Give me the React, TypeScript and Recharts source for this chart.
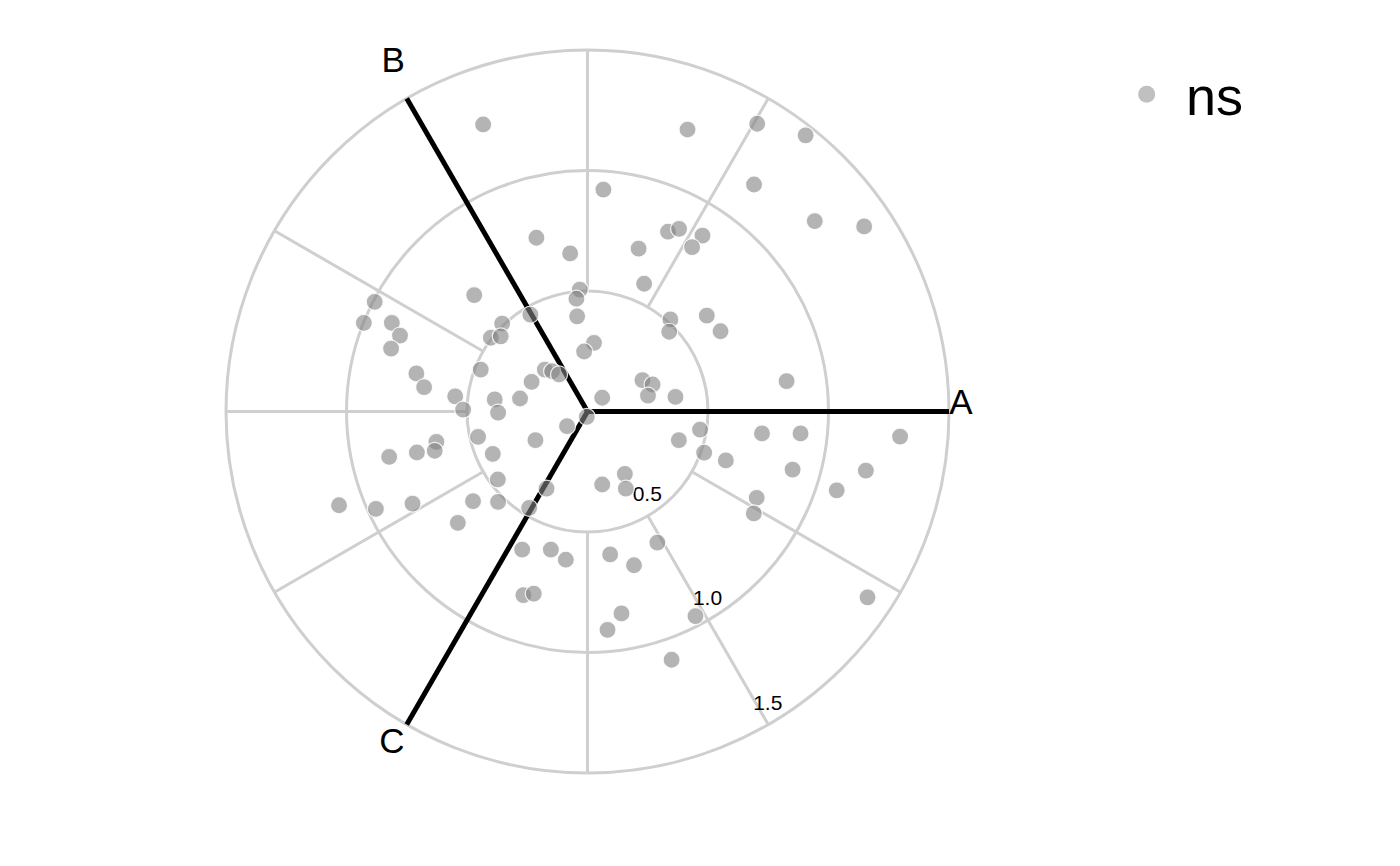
import { ScatterChart, Scatter, XAxis, YAxis, ReferenceLine, ReferenceDot, Legend } from 'recharts';

// radial grid: rings, their labels, and the spokes that are drawn
const RINGS = [0.5, 1.0, 1.5];
const RING_LABELS = ['0.5', '1.0', '1.5'];
const RING_LABEL_ANGLE = 300;
const SPOKE_ANGLES = [60, 90, 150, 180, 210, 270, 300, 330];

// the three comparison axes
const AXIS_NAMES = ['A', 'B', 'C'];
const AXIS_ANGLES = [0, 120, 240];

// "ns" points (cartesian, same units as the rings)
const nsX = [
  -0.433, 0.415, 0.066, -0.212, -0.072, 0.334, 0.380, 0.477, 0.434, 0.212,
  0.235, -0.032, -0.046, -0.470, 0.704, 0.905, 0.691, 0.943, 1.148, -0.883,
  -0.928, -0.812, -0.778, -0.815, -0.710, -0.678, -0.549, -0.516, -0.627, -0.634,
  -0.708, -0.823, -1.031, -0.878, -0.726, -0.538, -0.237, -0.043, -0.354, -0.401,
  -0.360, 0.027, -0.014, 0.344, 0.339, 0.495, 0.552, -0.443, -0.177, -0.147,
  -0.118, -0.232, 0.228, 0.270, 0.251, 0.061, 0.365, -0.385, -0.280, -0.371,
  -0.003, -0.085, 0.467, 0.379, -0.454, -0.216, 0.484, -0.393, 0.155, 0.061,
  0.159, -0.170, -0.372, -0.475, -0.371, -0.242, 0.826, 0.724, 0.884, 1.297,
  0.574, 0.851, 1.155, 1.034, 0.702, 0.690, -0.271, -0.152, -0.090, -0.266,
  -0.223, 0.094, 0.193, 0.290, 0.141, 0.083, 0.448, 0.349, 1.162,
];
const nsY = [
  1.191, 1.170, 0.921, 0.721, 0.656, 0.746, 0.758, 0.730, 0.682, 0.676,
  0.530, 0.506, 0.468, 0.483, 1.194, 1.146, 0.942, 0.790, 0.768, 0.455,
  0.368, 0.368, 0.315, 0.261, 0.158, 0.101, 0.063, 0.008, -0.126, -0.163,
  -0.170, -0.188, -0.389, -0.404, -0.382, -0.462, 0.402, 0.395, 0.365, 0.306,
  0.312, 0.285, 0.249, 0.382, 0.331, 0.398, 0.333, 0.174, 0.174, 0.167,
  0.154, 0.123, 0.130, 0.112, 0.066, 0.057, 0.061, 0.050, 0.054, -0.005,
  -0.022, -0.061, -0.075, -0.119, -0.105, -0.119, -0.171, -0.176, -0.259, -0.303,
  -0.320, -0.320, -0.282, -0.372, -0.375, -0.400, 0.126, -0.091, -0.091, -0.104,
  -0.203, -0.241, -0.245, -0.327, -0.358, -0.423, -0.573, -0.573, -0.615, -0.762,
  -0.756, -0.593, -0.638, -0.544, -0.838, -0.906, -0.849, -1.030, -0.771,
];

const R_MAX = 1.5;
const PLOT = 723;
const PX = PLOT / (2 * R_MAX);
const W = 1384;
const H = 850;
const MARGIN = { top: 42, left: 218, right: W - 218 - PLOT, bottom: H - 42 - PLOT };

const GRID = '#cfcfcf';
const FONT = '"Liberation Sans", Arial, Helvetica, sans-serif';
// pixel nudges of the axis names from the end of each axis
const AXIS_NUDGE = [[12, -10.5], [-13.5, -38.7], [-14.8, 16.2]];

const rad = (deg: number) => (deg * Math.PI) / 180;
const polar = (r: number, deg: number) => ({ x: r * Math.cos(rad(deg)), y: r * Math.sin(rad(deg)) });

const points = nsX.map((x, i) => ({ x, y: nsY[i] }));

function PointDot(props: any) {
  const { cx, cy } = props;
  if (cx == null || cy == null) return null;
  return (
    <circle cx={cx} cy={cy} r={8.5} fill="#828282" fillOpacity={0.6}
      stroke="#ffffff" strokeOpacity={0.85} strokeWidth={1.2} />
  );
}

function NsLegend({ payload }: any) {
  const item = payload?.[0];
  if (!item) return null;
  return (
    <svg width={150} height={80}>
      <circle cx={26.7} cy={34.2} r={8.5} fill="#828282" fillOpacity={0.5} />
      <text x={66} y={55} fontSize={54} fontFamily={FONT} fill="#000">{item.value}</text>
    </svg>
  );
}

export default function App() {
  return (
    <div style={{ width: W, height: H, background: '#fff' }}>
      <ScatterChart width={W} height={H} margin={MARGIN}>
        <XAxis type="number" dataKey="x" domain={[-R_MAX, R_MAX]} hide allowDataOverflow />
        <YAxis type="number" dataKey="y" domain={[-R_MAX, R_MAX]} hide allowDataOverflow />

        {RINGS.map(r => (
          <ReferenceDot key={`ring-${r}`} x={0} y={0} r={r * PX} fill="none"
            stroke={GRID} strokeWidth={3} ifOverflow="visible" zIndex={100} />
        ))}
        {SPOKE_ANGLES.map(a => (
          <ReferenceLine key={`spoke-${a}`} segment={[polar(RINGS[0], a), polar(R_MAX, a)]}
            stroke={GRID} strokeWidth={3} ifOverflow="visible" zIndex={100} />
        ))}
        {AXIS_ANGLES.map((a, i) => (
          <ReferenceLine key={`axis-${AXIS_NAMES[i]}`} segment={[{ x: 0, y: 0 }, polar(R_MAX, a)]}
            stroke="#000" strokeWidth={5} ifOverflow="visible" zIndex={200} />
        ))}
        {RINGS.map((r, i) => {
          const p = polar(r, RING_LABEL_ANGLE);
          return (
            <ReferenceDot key={`tick-${r}`} x={p.x} y={p.y} r={0} ifOverflow="visible" zIndex={300}
              shape={(d: any) => (
                <text x={d.cx - 0.5} y={d.cy - 15} textAnchor="middle" fontSize={21}
                  fontFamily={FONT} fill="#000">{RING_LABELS[i]}</text>
              )} />
          );
        })}
        {AXIS_ANGLES.map((a, i) => {
          const p = polar(R_MAX, a);
          return (
            <ReferenceDot key={`name-${AXIS_NAMES[i]}`} x={p.x} y={p.y} r={0} ifOverflow="visible" zIndex={300}
              shape={(d: any) => (
                <text x={d.cx + AXIS_NUDGE[i][0]} y={d.cy + AXIS_NUDGE[i][1] + 12.5} textAnchor="middle"
                  fontSize={35} fontFamily={FONT} fill="#000">{AXIS_NAMES[i]}</text>
              )} />
          );
        })}

        <Scatter name="ns" data={points} fill="#828282" shape={<PointDot />} isAnimationActive={false} zIndex={600} />
        <Legend layout="horizontal" verticalAlign="middle" align="center"
          content={(p: any) => <NsLegend {...p} />}
          wrapperStyle={{ left: 1112, top: 52, width: 150, height: 80 }} />
      </ScatterChart>
    </div>
  );
}
